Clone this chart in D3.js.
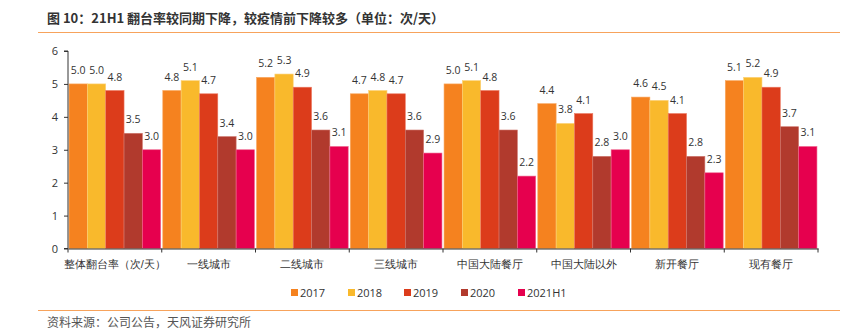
<!DOCTYPE html>
<html><head><meta charset="utf-8">
<script src="https://cdn.jsdelivr.net/npm/d3@7"></script>
<style>
body{margin:0;background:#fff;}
svg{display:block;font-family:"Noto Sans CJK SC","Open Sans",sans-serif;}
</style></head>
<body><svg id="c" width="853" height="331"></svg>
<script>
const categories = ["整体翻台率（次/天）","一线城市","二线城市","三线城市","中国大陆餐厅","中国大陆以外","新开餐厅","现有餐厅"];
const seriesNames = ["2017","2018","2019","2020","2021H1"];
const s2017 = [5.0,4.8,5.2,4.7,5.0,4.4,4.6,5.1];
const s2018 = [5.0,5.1,5.3,4.8,5.1,3.8,4.5,5.2];
const s2019 = [4.8,4.7,4.9,4.7,4.8,4.1,4.1,4.9];
const s2020 = [3.5,3.4,3.6,3.6,3.6,2.8,2.8,3.7];
const s2021H1 = [3.0,3.0,3.1,2.9,2.2,3.0,2.3,3.1];
const yTicks = [0,1,2,3,4,5,6];
const colors = ["#F5821F","#F9B92C","#DC3C1B","#B13A2D","#E6004E"];
const strokes = ["#F9A860","#FCD27A","#EC7A62","#D0786E","#F0688F"];
const series = [s2017,s2018,s2019,s2020,s2021H1];

const svg = d3.select("#c");
const L = 68, R = 818, T = 51, B = 248.5;

svg.append("text").attr("x",47).attr("y",23).attr("font-size",13).attr("font-weight","bold").attr("fill","#333")
  .text("图 10：21H1 翻台率较同期下降，较疫情前下降较多（单位：次/天）");
svg.append("line").attr("x1",38).attr("x2",840).attr("y1",32.5).attr("y2",32.5).attr("stroke","#F7A35C").attr("stroke-width",1.2);
svg.append("line").attr("x1",38).attr("x2",840).attr("y1",310.5).attr("y2",310.5).attr("stroke","#F7A35C").attr("stroke-width",1.2);
svg.append("text").attr("x",47).attr("y",327).attr("font-size",12).attr("fill","#555").text("资料来源：公司公告，天风证券研究所");

const x = d3.scaleBand().domain(categories).range([L,R]).paddingInner(0).paddingOuter(0);
const inner = d3.scaleBand().domain(seriesNames).range([0,x.bandwidth()]).paddingOuter(0.057);
const y = d3.scaleLinear().domain([0,6]).range([B,T]);

const g = svg.append("g");
categories.forEach((c,i)=>{
  series.forEach((s,j)=>{
    const bx = x(c)+inner(seriesNames[j]);
    g.append("rect").attr("x",bx).attr("y",y(s[i])).attr("width",inner.bandwidth()).attr("height",y(0)-y(s[i]))
      .attr("fill",colors[j]).attr("stroke",strokes[j]).attr("stroke-width",0.6);
    g.append("text").attr("x",bx+inner.bandwidth()/2).attr("y",y(s[i])-10).attr("text-anchor","middle")
      .attr("font-size",10.5).attr("fill","#333").attr("font-family","'Open Sans',sans-serif").text(s[i].toFixed(1));
  });
});

const ya = svg.append("g").attr("transform",`translate(${L},0)`)
  .call(d3.axisLeft(y).tickValues(yTicks).tickFormat(d3.format("d")).tickSize(4).tickPadding(6));
ya.select(".domain").attr("stroke","#333").attr("d",`M-4,${B}H0V${T}H-4`);
ya.selectAll(".tick line").attr("stroke","#333");
ya.selectAll("text").attr("font-size",11).attr("fill","#333").attr("font-family","'Open Sans',sans-serif");

const xa = svg.append("g").attr("transform",`translate(0,${B})`)
  .call(d3.axisBottom(x).tickSize(0).tickPadding(12));
xa.select(".domain").attr("stroke","#333").attr("stroke-width",1.2);
xa.selectAll("text").attr("font-size",11).attr("fill","#333");
const edges = categories.map(c=>x(c)).concat([R]);
svg.append("g").selectAll("line").data(edges).join("line")
  .attr("x1",d=>d).attr("x2",d=>d).attr("y1",B).attr("y2",B+4).attr("stroke","#333");

const lg = svg.append("g");
const lx = [291,348,404,461,518];
seriesNames.forEach((n,j)=>{
  lg.append("rect").attr("x",lx[j]).attr("y",289).attr("width",7).attr("height",7).attr("fill",colors[j]);
  lg.append("text").attr("x",lx[j]+9).attr("y",296.5).attr("font-size",11).attr("fill","#333").attr("font-family","'Open Sans',sans-serif").text(n);
});
</script></body></html>
